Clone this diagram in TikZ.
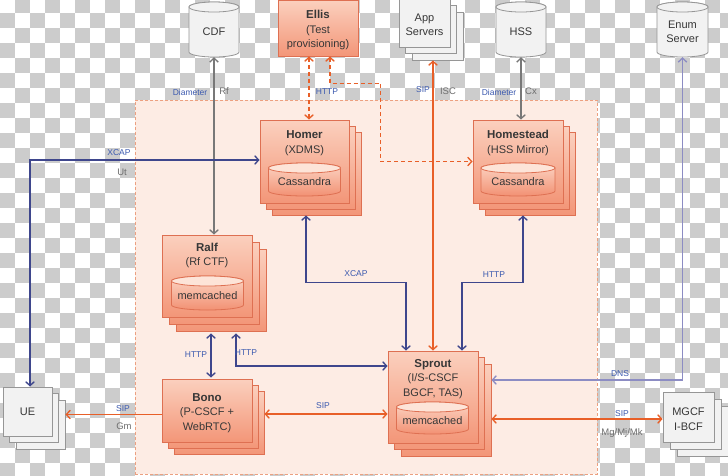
\documentclass[tikz,border=0pt]{standalone}
\usepackage{fontspec}
\setmainfont{Liberation Sans}
\usetikzlibrary{arrows.meta,calc}
\definecolor{checker}{RGB}{204,204,204}
\definecolor{bgpeach}{RGB}{253,236,228}
\definecolor{corebd}{RGB}{236,160,128}
\definecolor{oborder}{RGB}{222,112,82}
\definecolor{otop}{RGB}{251,208,190}
\definecolor{obot}{RGB}{243,150,120}
\definecolor{ocyltop}{RGB}{252,214,198}
\definecolor{ocylbot}{RGB}{242,145,115}
\definecolor{ocylcap}{RGB}{253,228,216}
\definecolor{gfill}{RGB}{242,242,242}
\definecolor{gborder}{RGB}{150,150,150}
\definecolor{lorange}{RGB}{232,95,40}
\definecolor{navy}{RGB}{62,70,140}
\definecolor{lav}{RGB}{140,140,195}
\definecolor{garrow}{RGB}{120,120,120}
\definecolor{lblue}{RGB}{60,90,175}
\definecolor{lgray}{RGB}{110,110,110}
\definecolor{txt}{RGB}{55,55,55}
\tikzset{
  obox/.style={draw=oborder, line width=0.8pt, top color=otop, bottom color=obot, inner sep=0pt, rectangle},
  gbox/.style={draw=gborder, line width=0.8pt, fill=gfill, inner sep=0pt, rectangle},
  ocyl/.style={draw=oborder, line width=0.8pt, top color=ocyltop, bottom color=ocylbot},
  ocylc/.style={draw=oborder, line width=0.8pt, fill=ocylcap},
  gcyl/.style={draw=gborder, line width=0.8pt, fill=gfill},
  gcylc/.style={draw=gborder, line width=0.8pt, fill=gfill},
  main/.style={font=\fontsize{11}{14.5}\selectfont, text=txt, align=center},
  lb/.style={font=\fontsize{8.5}{10}\selectfont, text=lblue, inner sep=1pt},
  lg/.style={font=\fontsize{9.5}{11}\selectfont, text=lgray, inner sep=1pt},
  conn/.style={line width=1.3pt},
  oline/.style={conn, draw=lorange},
  nline/.style={conn, draw=navy},
  lline/.style={conn, draw=lav},
  gline/.style={conn, draw=garrow},
  dashline/.style={dash pattern=on 4pt off 3pt},
}
\newcommand\ttl[1]{{\fontsize{11.5}{14.5}\selectfont\bfseries #1}}
% name, cx, cy, rx, hh, ry, text, bodystyle, capstyle
\newcommand\cylnode[9]{%
  \path[#8] (#2-#4,#3-#5+#6) -- (#2-#4,#3+#5-#6)
     arc[start angle=180,end angle=360,x radius=#4pt,y radius=#6pt]
     -- (#2+#4,#3-#5+#6)
     arc[start angle=0,end angle=180,x radius=#4pt,y radius=#6pt] -- cycle;
  \path[#9] (#2,#3-#5+#6) ellipse[x radius=#4pt,y radius=#6pt];
  \node[main, inner sep=0pt, minimum width=2*#4, minimum height=2*#5-#6] (#1) at (#2,#3+#6/2) {#7};}
% name, cx, cy, w, h, d, style
\newcommand\stk[7]{%
  \node[#7, minimum width=#4, minimum height=#5] (#1b2) at (#2+2*#6,#3+2*#6) {};
  \node[#7, minimum width=#4, minimum height=#5] (#1b1) at (#2+#6,#3+#6) {};
  \node[#7, minimum width=#4, minimum height=#5] (#1) at (#2,#3) {};}
\begin{document}
\begin{tikzpicture}[x=1pt,y=-1pt,>={Straight Barb[length=4pt,width=8.5pt]}]
\useasboundingbox (0,0) rectangle (728,475);
% checkerboard background
\begin{scope}
\clip (0,0) rectangle (728,475);
\fill[white] (0,0) rectangle (728,475);
\foreach \j in {0,2,...,30}{\foreach \i in {1,3,...,49}{\fill[checker] (\i*15,\j*15-1.7) rectangle ++(15,15);}}
\foreach \j in {1,3,...,31}{\foreach \i in {0,2,...,48}{\fill[checker] (\i*15,\j*15-1.7) rectangle ++(15,15);}}
\end{scope}
% core container
\node[draw=corebd, line width=0.7pt, dash pattern=on 3pt off 2pt, fill=bgpeach, minimum width=462, minimum height=374, inner sep=0pt] (core) at (366,287) {};

% top row
\cylnode{cdf}{214}{29.5}{25}{27.5}{5}{CDF}{gcyl}{gcylc}
\node[obox, minimum width=80, minimum height=56] (ellis) at (318,28) {};
\node[main] (ellis-t) at (318,30) {\ttl{Ellis}\\(Test\\provisioning)};
\stk{app}{424.5}{23}{51}{48}{6.5}{gbox}
\node[main] (app-t) at (424.5,25) {App\\Servers};
\cylnode{hss}{521}{29.5}{25}{27.5}{5}{HSS}{gcyl}{gcylc}
\cylnode{enum}{682.5}{29.5}{25.5}{27.5}{5}{Enum\\Server}{gcyl}{gcylc}

% Homer
\stk{homer}{304.5}{161.5}{89}{83}{6}{obox}
\node[main] (homer-t) at (304.5,143) {\ttl{Homer}\\(XDMS)};
\cylnode{homer-db}{304.5}{179.5}{36}{16.5}{5}{Cassandra}{ocyl}{ocylc}
% Homestead
\stk{homestead}{518}{161.5}{90}{83}{6}{obox}
\node[main] (homestead-t) at (518,143) {\ttl{Homestead}\\(HSS Mirror)};
\cylnode{homestead-db}{518}{179.5}{37}{16.5}{5}{Cassandra}{ocyl}{ocylc}
% Ralf
\stk{ralf}{207}{276}{90}{82}{7}{obox}
\node[main] (ralf-t) at (207,255.5) {\ttl{Ralf}\\(Rf CTF)};
\cylnode{ralf-db}{207.5}{293}{36}{17}{5}{memcached}{ocyl}{ocylc}
% Bono
\stk{bono}{207}{410.5}{90}{63}{6}{obox}
\node[main] (bono-t) at (207,413) {\ttl{Bono}\\(P-CSCF +\\WebRTC)};
% Sprout
\stk{sprout}{433}{397}{90}{92}{6.5}{obox}
\node[main] (sprout-t) at (433,379) {\ttl{Sprout}\\(I/S-CSCF\\BGCF, TAS)};
\cylnode{sprout-db}{432.5}{418}{36}{16}{5}{memcached}{ocyl}{ocylc}
% UE and MGCF
\stk{ue}{27.5}{411.5}{49}{49}{6.5}{gbox}
\node[main] (ue-t) at (27.5,412) {UE};
\stk{mgcf}{688.5}{417}{51}{50}{7}{gbox}
\node[main] (mgcf-t) at (688.5,419) {MGCF\\I-BCF};

% connectors
\draw[gline,<->] (cdf.south) -- (cdf.south |- ralf.north);
\draw[oline,dashline,<->] ($(ellis.south)+(-9,0)$) -- ($(ellis.south |- homer.north)+(-9,0)$);
\draw[oline,dashline,<->] ($(ellis.south)+(12,0)$) -- ++(0,27) -| ($(homestead.west)+(-92,0)$) -- (homestead.west);
\draw[oline,<->] (sprout.north |- appb2.south) -- (sprout.north);
\draw[gline,<->] (hss.south) -- (hss.south |- homestead.north);
\draw[lline,<->] (enum.south) |- ([yshift=30pt]sproutb2.east);
\draw[nline,<->] ([yshift=1.5pt]homer.west) -| ($(ue.north)+(2.5,0)$);
\draw[nline,<->] ($(homer.south |- homerb2.south)+(1.5,0)$) -- ++(0,67) -| ($(sprout.north)+(-27,0)$);
\draw[nline,<->] ($(homestead.south |- homesteadb2.south)+(5,0)$) -- ++(0,67) -| ($(sprout.north)+(29,0)$);
\draw[nline,<->] ($(ralf.south |- ralfb2.south)+(4,2)$) -- ($(bono.north)+(4,-1)$);
\draw[nline,<->] ($(ralfb2.south)+(15,2)$) |- ([yshift=31pt]sprout.west);
\draw[oline,<->] ($(bonob2.east |- bono.east)+(0,3.5)$) -- ($(sprout.west |- bono.east)+(0,3.5)$);
\draw[oline,->] ($(bono.west)+(0,4)$) -- ($(ueb2.east |- bono.west)+(0,4)$);
\draw[oline,<->] ($(sproutb2.east)+(0,9)$) -- ($(mgcf.west |- sproutb2.east)+(0,9)$);

% labels
\node[lb] (l1) at (190,92) {Diameter};
\node[lg] (l2) at (224,91) {Rf};
\node[lb] (l3) at (327,92) {HTTP};
\node[lb] (l4) at (423,90) {SIP};
\node[lg] (l5) at (448,91) {ISC};
\node[lb] (l6) at (499,92) {Diameter};
\node[lg] (l7) at (531,91) {Cx};
\node[lb] (l8) at (119,153) {XCAP};
\node[lg] (l9) at (122,172) {Ut};
\node[lb] (l10) at (356,274) {XCAP};
\node[lb] (l11) at (494,275) {HTTP};
\node[lb] (l12) at (196,355) {HTTP};
\node[lb] (l13) at (246,353) {HTTP};
\node[lb] (l14) at (323,406) {SIP};
\node[lb] (l15) at (123,409) {SIP};
\node[lg] (l16) at (124,426) {Gm};
\node[lb] (l17) at (620,374) {DNS};
\node[lb] (l18) at (622,414) {SIP};
\node[lg] (l19) at (622,433) {Mg/Mj/Mk};
\end{tikzpicture}
\end{document}
